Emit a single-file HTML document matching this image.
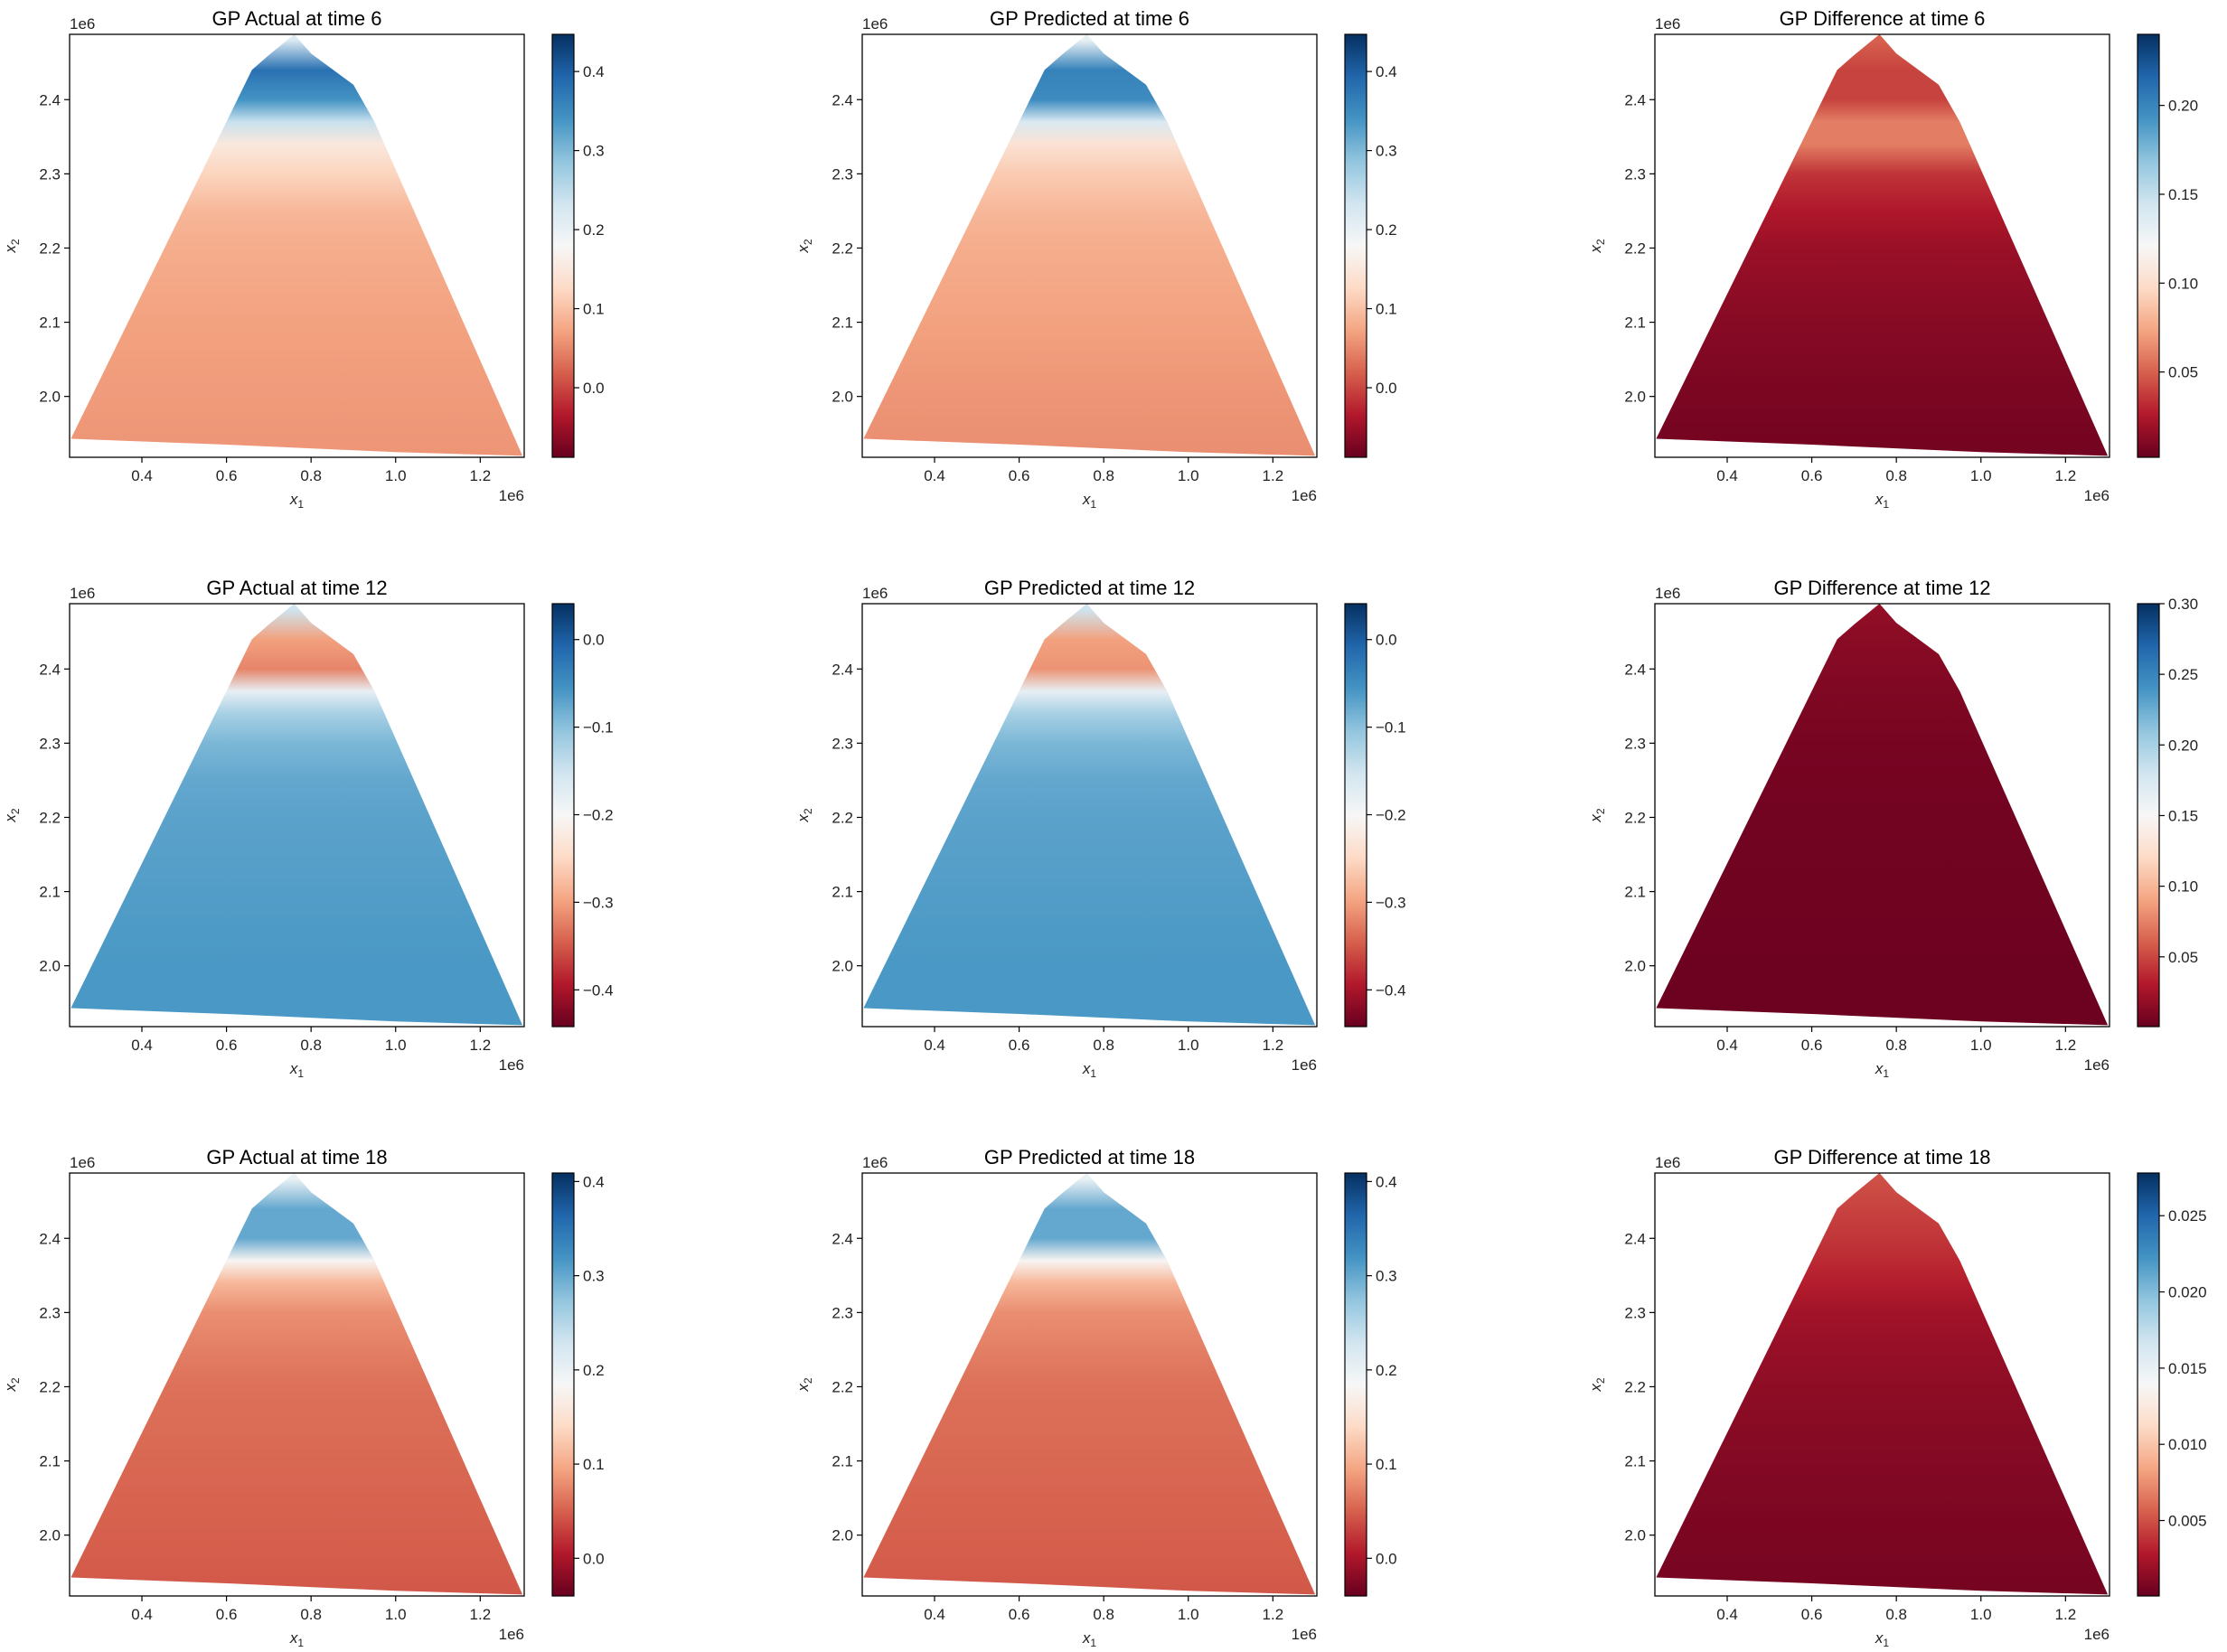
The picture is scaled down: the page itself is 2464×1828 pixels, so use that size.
<!DOCTYPE html>
<html><head><meta charset="utf-8">
<style>
html,body{margin:0;padding:0;background:#fff;}
svg{display:block;font-family:"Liberation Sans","DejaVu Sans",sans-serif;}
</style></head>
<body>
<svg id="fig" width="2464" height="1828" viewBox="0 0 2464 1828" xmlns="http://www.w3.org/2000/svg"></svg>
<script>
// ---- data ----
const titles = ["GP Actual at time 6","GP Predicted at time 6","GP Difference at time 6",
                "GP Actual at time 12","GP Predicted at time 12","GP Difference at time 12",
                "GP Actual at time 18","GP Predicted at time 18","GP Difference at time 18"];
const xTicks = [0.4,0.6,0.8,1.0,1.2];
const xTickLabels = ["0.4","0.6","0.8","1.0","1.2"];
const yTicks = [2.0,2.1,2.2,2.3,2.4];
const yTickLabels = ["2.0","2.1","2.2","2.3","2.4"];
const xDomain = [0.229,1.304];
const yDomain = [1.918,2.488];
// domain outline (x1, x2 in 1e6)
const outlineX = [0.232,0.66,0.70,0.76,0.80,0.90,0.95,1.30,1.00,0.60];
const outlineY = [1.943,2.440,2.460,2.488,2.462,2.420,2.370,1.920,1.925,1.935];
// vertical value profile sample levels
const profileLevels = [2.48,2.44,2.40,2.37,2.34,2.30,2.25,2.20,2.10,2.00,1.92];
const profileA6 = [0.22,0.38,0.34,0.24,0.15,0.12,0.09,0.08,0.07,0.065,0.06];
const profileP6 = [0.20,0.36,0.35,0.22,0.14,0.11,0.09,0.08,0.07,0.06,0.055];
const profileD6 = [0.05,0.04,0.04,0.06,0.06,0.035,0.025,0.018,0.012,0.008,0.006];
const profileA12 = [-0.15,-0.30,-0.32,-0.18,-0.12,-0.09,-0.075,-0.07,-0.065,-0.06,-0.06];
const profileP12 = [-0.15,-0.30,-0.31,-0.18,-0.12,-0.09,-0.075,-0.07,-0.065,-0.06,-0.06];
const profileD12 = [0.018,0.014,0.012,0.010,0.009,0.007,0.006,0.005,0.004,0.003,0.003];
const profileA18 = [0.20,0.30,0.30,0.18,0.11,0.08,0.07,0.06,0.055,0.05,0.045];
const profileP18 = [0.20,0.30,0.30,0.18,0.11,0.08,0.07,0.06,0.055,0.05,0.045];
const profileD18 = [0.005,0.0045,0.004,0.0035,0.003,0.0022,0.0018,0.0015,0.0011,0.0008,0.0006];
const cbarMin = [-0.088,-0.088,0.002,-0.442,-0.442,0.0006,-0.04,-0.04,0.00005];
const cbarMax = [0.447,0.447,0.240,0.041,0.041,0.300,0.409,0.409,0.0278];
const cbarTicks0 = [0.0,0.1,0.2,0.3,0.4];
const cbarTicks2 = [0.05,0.10,0.15,0.20];
const cbarTicks3 = [-0.4,-0.3,-0.2,-0.1,0.0];
const cbarTicks5 = [0.05,0.10,0.15,0.20,0.25,0.30];
const cbarTicks8 = [0.005,0.010,0.015,0.020,0.025];

// ---- layout ----
const colX = [77,954,1831], axW = 503;
const rowY = [38,668,1298], axH = 468;
const cbOff = 534, cbW = 24;
const RdBu = ["#67001f","#b2182b","#d6604d","#f4a582","#fddbc7","#f7f7f7","#d1e5f0","#92c5de","#4393c3","#2166ac","#053061"];
const profiles = [profileA6,profileP6,profileD6,profileA12,profileP12,profileD12,profileA18,profileP18,profileD18];
const cbTicks = [cbarTicks0,cbarTicks0,cbarTicks2,cbarTicks3,cbarTicks3,cbarTicks5,cbarTicks0,cbarTicks0,cbarTicks8];
const cbDigits = [1,1,2,1,1,2,1,1,3];

function hex(h){return [1,3,5].map(i=>parseInt(h.substr(i,2),16));}
function cmap(t){t=Math.max(0,Math.min(1,t));const s=t*10,i=Math.min(9,Math.floor(s)),f=s-i;
 const a=hex(RdBu[i]),b=hex(RdBu[i+1]);return "rgb("+a.map((v,k)=>Math.round(v+(b[k]-v)*f)).join(",")+")";}
const NS="http://www.w3.org/2000/svg";
const fig=document.getElementById('fig');
function el(tag,attrs,parent){const e=document.createElementNS(NS,tag);for(const k in attrs)e.setAttribute(k,attrs[k]);(parent||fig).appendChild(e);return e;}
const defs=el('defs',{});
function fmt(v,d){return (v<0?"\u2212":"")+Math.abs(v).toFixed(d);}

for(let p=0;p<9;p++){
 const ox=colX[p%3], oy=rowY[Math.floor(p/3)];
 const sx=v=>ox+(v-xDomain[0])/(xDomain[1]-xDomain[0])*axW;
 const sy=v=>oy+axH-(v-yDomain[0])/(yDomain[1]-yDomain[0])*axH;
 const g=el('g',{});
 
 
 const vmin=cbarMin[p], vmax=cbarMax[p];
 const lg=el('linearGradient',{id:'fld'+p,gradientUnits:'userSpaceOnUse',x1:0,y1:sy(yDomain[1]),x2:0,y2:sy(yDomain[0])},defs);
 profiles[p].forEach((v,i)=>{
  const off=(sy(profileLevels[i])-sy(yDomain[1]))/(sy(yDomain[0])-sy(yDomain[1]));
  el('stop',{offset:off.toFixed(4),'stop-color':cmap((v-vmin)/(vmax-vmin))},lg);
 });
 const pts=outlineX.map((x,i)=>sx(x).toFixed(1)+","+sy(outlineY[i]).toFixed(1)).join(" ");
 const field=el('polygon',{points:pts,fill:'url(#fld'+p+')'},g);
 
 
 const fr=el('rect',{x:ox,y:oy,width:axW,height:axH,fill:'none',stroke:'#000','stroke-width':1.3},g);
 
 
 const t=el('text',{x:ox+axW/2,y:oy-10,'text-anchor':'middle','font-size':22,fill:'#000'},g);
 t.textContent=titles[p];
 
 
 xTicks.forEach((v,i)=>{
  el('line',{x1:sx(v),x2:sx(v),y1:oy+axH,y2:oy+axH+6,stroke:'#000','stroke-width':1.2},g);
  const tx=el('text',{x:sx(v),y:oy+axH+26,'text-anchor':'middle','font-size':17,fill:'#222'},g);
  tx.textContent=xTickLabels[i];
  
  
 });
 yTicks.forEach((v,i)=>{
  el('line',{x1:ox-6,x2:ox,y1:sy(v),y2:sy(v),stroke:'#000','stroke-width':1.2},g);
  const ty=el('text',{x:ox-10,y:sy(v)+6,'text-anchor':'end','font-size':17,fill:'#222'},g);
  ty.textContent=yTickLabels[i];
  
  
 });
 const e1=el('text',{x:ox,y:oy-6,'font-size':17,fill:'#222'},g);e1.textContent="1e6";
 
 
 const e2=el('text',{x:ox+axW,y:oy+axH+48,'text-anchor':'end','font-size':17,fill:'#222'},g);e2.textContent="1e6";
 
 
 const xl=el('text',{x:ox+axW/2,y:oy+axH+52,'text-anchor':'middle','font-size':17,'font-style':'italic',fill:'#222'},g);
 xl.innerHTML='x<tspan font-size="12" dy="4" font-style="normal">1</tspan>';
 
 
 const yx=ox-60, yy=oy+axH/2;
 const yl=el('text',{x:yx,y:yy,'text-anchor':'middle','font-size':17,'font-style':'italic',fill:'#222',transform:'rotate(-90 '+yx+' '+yy+')'},g);
 yl.innerHTML='x<tspan font-size="12" dy="4" font-style="normal">2</tspan>';
 
 
 const cx=ox+cbOff;
 const cg=el('linearGradient',{id:'cb'+p,x1:0,y1:1,x2:0,y2:0},defs);
 RdBu.forEach((c,i)=>el('stop',{offset:i/10,'stop-color':c},cg));
 const cb=el('rect',{x:cx,y:oy,width:cbW,height:axH,fill:'url(#cb'+p+')',stroke:'#000','stroke-width':1.2},g);
 
 
 const cy=v=>oy+axH-(v-vmin)/(vmax-vmin)*axH;
 cbTicks[p].forEach(v=>{
  el('line',{x1:cx+cbW,x2:cx+cbW+6,y1:cy(v),y2:cy(v),stroke:'#000','stroke-width':1.2},g);
  const ct=el('text',{x:cx+cbW+10,y:cy(v)+6,'font-size':17,fill:'#222'},g);
  ct.textContent=fmt(v,cbDigits[p]);
  
  
 });
}
</script>
</body></html>
